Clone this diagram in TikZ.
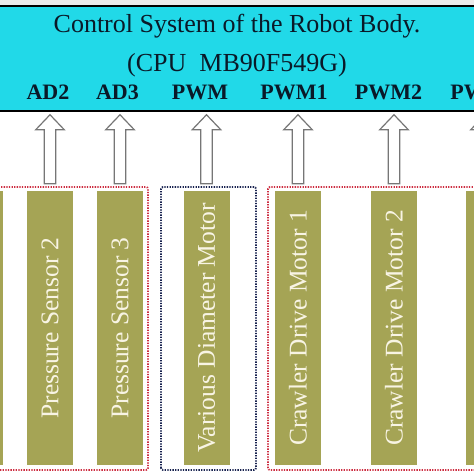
\documentclass[tikz,border=0pt]{standalone}
\usepackage{fontspec}
\setmainfont{Liberation Serif}
\usepackage{tikz}
\usepackage{color}
\usetikzlibrary{calc}

\definecolor{headcyan}{RGB}{33,217,232}
\definecolor{titleink}{RGB}{10,25,40}
\definecolor{barolive}{RGB}{165,164,85}
\definecolor{bartext}{RGB}{248,244,228}
\definecolor{arrowgray}{RGB}{118,118,118}
\definecolor{boxred}{RGB}{205,45,65}
\definecolor{boxblue}{RGB}{25,35,80}

\begin{document}
\begin{tikzpicture}[%
      x=1pt, y=1pt,
      bar/.style={rotate=90, fill=barolive, minimum width=274pt, minimum height=46pt,
        inner sep=0pt, text=bartext, font=\fontsize{25.5}{27}\selectfont},
      port/.style={anchor=base, text=titleink, font=\fontsize{22}{24}\selectfont\bfseries},
      group/.style={line width=1.8pt, dash pattern=on 1.3pt off 1.3pt, rounded corners=2pt},
      upblock/.style={draw=arrowgray, line width=1.2pt, fill=white,
        to path={let \p1=(\tikztostart), \p2=(\tikztotarget) in
          (\x1-5.7pt,\y1) -- (\x1-5.7pt,\y2-15pt) -- (\x1-14.3pt,\y2-15pt) -- (\x1,\y2)
          -- (\x1+14.3pt,\y2-15pt) -- (\x1+5.7pt,\y2-15pt) -- (\x1+5.7pt,\y1) -- cycle}},
      ]
      \useasboundingbox (0,0) rectangle (474,474);
      \clip (0,0) rectangle (474,474);
      \fill [color=black!8] (0,466) rectangle (474,474);

      \node (cpu) [draw=black, line width=1.5pt, fill=headcyan, minimum width=500pt,
        minimum height=105pt, inner sep=0pt] at (237,415.5) {};
      \node (title) [anchor=base, text=titleink, font=\fontsize{26}{28}\selectfont] at (237,441) {Control System of the Robot Body.};
      \node (cpuname) [anchor=base, text=titleink, font=\fontsize{26}{28}\selectfont] at (237,402) {(CPU\ \ MB90F549G)};

      \node (ad2) [port] at (48,374) {AD2};
      \node (ad3) [port] at (117.5,374) {AD3};
      \node (pwm) [port] at (200,374) {PWM};
      \node (pwm1) [port] at (294,374) {PWM1};
      \node (pwm2) [port] at (388.5,374) {PWM2};
      \node (pwm3) [port] at (484,374) {PWM3};

      \draw [group, color=boxred] (-10,4) rectangle (148,287);
      \draw [group, color=boxblue] (161,4) rectangle (256,287);
      \draw [group, color=boxred] (268,4) rectangle (490,287);

      \node (ps1) [bar] at (-20,146) {};
      \node (ps2) [bar] at (50,146) {Pressure Sensor 2};
      \node (ps3) [bar] at (120,146) {Pressure Sensor 3};
      \node (vdm) [bar] at (206.5,146) {Various Diameter Motor};
      \node (cdm1) [bar] at (298,146) {Crawler Drive Motor 1};
      \node (cdm2) [bar] at (394,146) {Crawler Drive Motor 2};
      \node (cdm3) [bar] at (489,146) {};

      \draw [upblock] ([yshift=7pt]ps2.east) to ([yshift=-3pt]cpu.south);
      \draw [upblock] ([yshift=7pt]ps3.east) to ([yshift=-3pt]cpu.south);
      \draw [upblock] ([yshift=7pt]vdm.east) to ([yshift=-3pt]cpu.south);
      \draw [upblock] ([yshift=7pt]cdm1.east) to ([yshift=-3pt]cpu.south);
      \draw [upblock] ([yshift=7pt]cdm2.east) to ([yshift=-3pt]cpu.south);
      \draw [upblock] ([xshift=-4pt,yshift=7pt]cdm3.east) to ([yshift=-3pt]cpu.south);
      \end{tikzpicture}
\end{document}
